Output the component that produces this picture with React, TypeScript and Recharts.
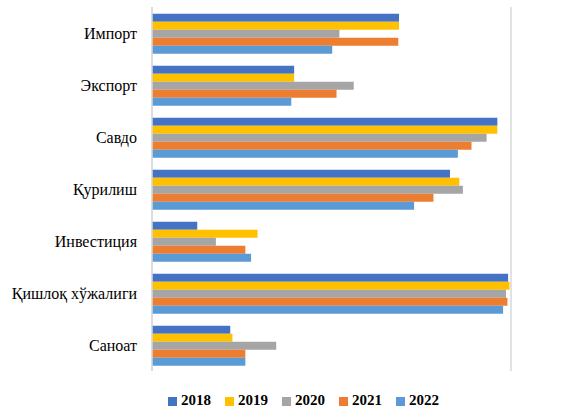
import { Bar, BarChart, CartesianGrid, Legend, XAxis, YAxis } from "recharts"

const categories = ["Импорт", "Экспорт", "Савдо", "Қурилиш", "Инвестиция", "Қишлоқ хўжалиги", "Саноат"]
const years = ["2018", "2019", "2020", "2021", "2022"]
const colors = ["#4472C4", "#FFC000", "#A5A5A5", "#ED7D31", "#5B9BD5"]

const v2018 = [3.44, 1.98, 4.81, 4.15, 0.63, 4.96, 1.09]
const v2019 = [3.44, 1.98, 4.81, 4.28, 1.47, 4.98, 1.12]
const v2020 = [2.61, 2.81, 4.66, 4.33, 0.89, 4.93, 1.73]
const v2021 = [3.43, 2.57, 4.45, 3.92, 1.3, 4.95, 1.3]
const v2022 = [2.51, 1.94, 4.26, 3.65, 1.38, 4.89, 1.3]

const series = [v2018, v2019, v2020, v2021, v2022]
const xTicks = [0, 1, 2, 3, 4, 5]

const data = categories.map((name, i) => {
  const row: Record<string, string | number> = { name }
  years.forEach((y, s) => {
    row[y] = series[s][i]
  })
  return row
})

const font = "'Liberation Serif', 'Times New Roman', serif"

export default function App() {
  return (
    <div style={{ position: "absolute", left: 0, top: 0, background: "#fff", fontFamily: font }}>
      <BarChart
        width={573}
        height={408}
        data={data}
        layout="vertical"
        margin={{ top: 7, right: 62, bottom: 22, left: 0 }}
        barCategoryGap="13%"
        barGap={0}
        style={{ fontFamily: font }}
      >
        <CartesianGrid horizontal={false} stroke="#d9d9d9" strokeWidth={1.5} />
        <XAxis
          type="number"
          domain={[0, 5]}
          ticks={xTicks}
          tick={false}
          tickLine={false}
          axisLine={false}
          height={1}
        />
        <YAxis
          type="category"
          dataKey="name"
          width={152}
          tickLine={false}
          axisLine={{ stroke: "#d9d9d9", strokeWidth: 1.5 }}
          tickMargin={9}
          tick={{ fontSize: 16, fill: "#000", fontFamily: font }}
          interval={0}
        />
        <Legend
          verticalAlign="bottom"
          align="left"
          iconType="square"
          iconSize={9}
          wrapperStyle={{
            fontFamily: font,
            fontSize: 15,
            fontWeight: "bold",
            lineHeight: "14px",
            left: 168,
            top: 393,
            width: 320,
          }}
          formatter={(value) => <span style={{ color: "#000", marginRight: 4 }}>{value}</span>}
        />
        {years.map((y, s) => (
          <Bar key={y} dataKey={y} fill={colors[s]} isAnimationActive={false} />
        ))}
      </BarChart>
    </div>
  )
}
